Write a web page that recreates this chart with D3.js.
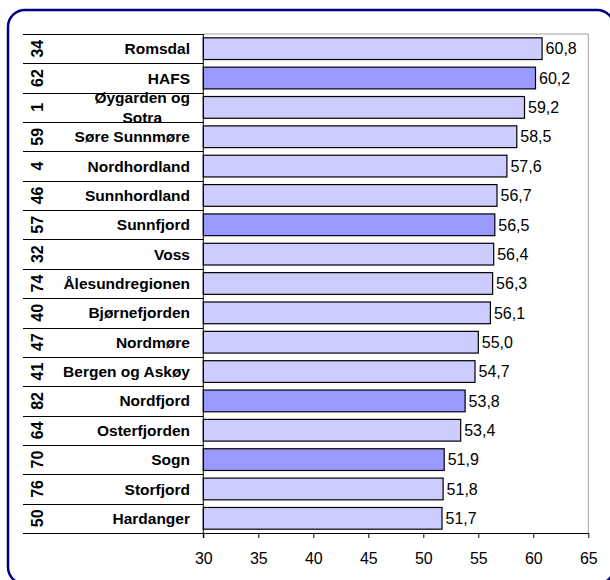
<!DOCTYPE html>
<html><head><meta charset="utf-8">
<script src="https://cdn.jsdelivr.net/npm/d3@7"></script>
<style>body{margin:0;background:#fff;} svg{display:block;}</style>
</head><body>
<svg id="chart" width="610" height="580"></svg>
<script>
const codes = ["34","62","1","59","4","46","57","32","74","40","47","41","82","64","70","76","50"];
const names = ["Romsdal","HAFS","Øygarden og Sotra","Søre Sunnmøre","Nordhordland","Sunnhordland","Sunnfjord","Voss","Ålesundregionen","Bjørnefjorden","Nordmøre","Bergen og Askøy","Nordfjord","Osterfjorden","Sogn","Storfjord","Hardanger"];
const values = [60.8,60.2,59.2,58.5,57.6,56.7,56.5,56.4,56.3,56.1,55.0,54.7,53.8,53.4,51.9,51.8,51.7];
const highlighted = ["HAFS","Sunnfjord","Nordfjord","Sogn"];
const xTicks = [30,35,40,45,50,55,60,65];

(function(){
const svg = d3.select("#chart");
const pL = 203.3, pR = 588.3, pT = 34, pB = 533, tableLeft = 23;
const FONT = "'Liberation Sans', Arial, sans-serif";

svg.append("rect").attr("x",8).attr("y",10).attr("width",606).attr("height",574)
  .attr("rx",17).attr("fill","none").attr("stroke","#000080").attr("stroke-width",2.5);

const x = d3.scaleLinear().domain([30,65]).range([pL,pR]);
const rows = d3.scaleBand().domain(names).range([pT,pB]);
const y = d3.scaleBand().domain(names).range([pT,pB]).paddingInner(0.26).paddingOuter(0.13);

svg.append("path").attr("d",`M${pL},${pT}H${pR}V${pB}`).attr("fill","none").attr("stroke","#a0a0a0").attr("stroke-width",1);

svg.append("g").selectAll("line").data(d3.range(names.length+1)).join("line")
  .attr("x1",tableLeft).attr("x2",pL)
  .attr("y1",i=>Math.round(pT + i*rows.step())+0.5)
  .attr("y2",i=>Math.round(pT + i*rows.step())+0.5)
  .attr("stroke","#000").attr("stroke-width",1);

svg.append("g").selectAll("rect").data(names).join("rect")
  .attr("x",x(30)).attr("y",d=>y(d))
  .attr("width",(d,i)=>x(values[i])-x(30)).attr("height",y.bandwidth())
  .attr("fill",d=>highlighted.includes(d)?"#9999FF":"#CCCCFF")
  .attr("stroke","#000").attr("stroke-width",1.2);

svg.append("g").selectAll("text").data(names).join("text")
  .attr("x",(d,i)=>x(values[i])+3.5).attr("y",d=>rows(d)+rows.step()/2)
  .attr("dy","0.36em").attr("font-family",FONT).attr("font-size",16)
  .attr("fill","#000").text((d,i)=>values[i].toFixed(1).replace(".",","));

const nameG = svg.append("g").attr("font-family",FONT)
  .attr("font-size",15.5).attr("font-weight","bold").attr("text-anchor","end");
names.forEach((n,i)=>{
  const cy = rows(n)+rows.step()/2;
  if(n==="Øygarden og Sotra"){
    const a = nameG.append("text").attr("x",190).attr("y",cy-10).attr("dy","0.36em").text("Øygarden og");
    const w = a.node().getComputedTextLength();
    nameG.append("text").attr("x",190-w/2).attr("y",cy+10).attr("dy","0.36em").attr("text-anchor","middle").text("Sotra");
  } else {
    nameG.append("text").attr("x",190).attr("y",cy).attr("dy","0.36em").text(n);
  }
});

svg.append("g").selectAll("text").data(names).join("text")
  .attr("transform",(d,i)=>`translate(37,${rows(d)+rows.step()/2}) rotate(-90)`)
  .attr("text-anchor","middle").attr("dy","0.36em")
  .attr("font-family",FONT).attr("font-size",16).attr("font-weight","bold")
  .text((d,i)=>codes[i]);

const xAxis = d3.axisBottom(x).tickValues(xTicks).tickSize(5).tickPadding(14.5).tickFormat(d=>d);
const ax = svg.append("g").attr("transform",`translate(0,${pB})`).call(xAxis);
ax.select(".domain").attr("stroke","#000").attr("d",`M${pL},0.5H${pR}`);
ax.selectAll(".tick line").attr("stroke","#000");
ax.selectAll("text").attr("font-family",FONT).attr("font-size",16).attr("fill","#000");

svg.append("line").attr("x1",pL).attr("x2",pL).attr("y1",pT).attr("y2",pB+5)
  .attr("stroke","#000").attr("stroke-width",1);
})();
</script>
</body></html>
